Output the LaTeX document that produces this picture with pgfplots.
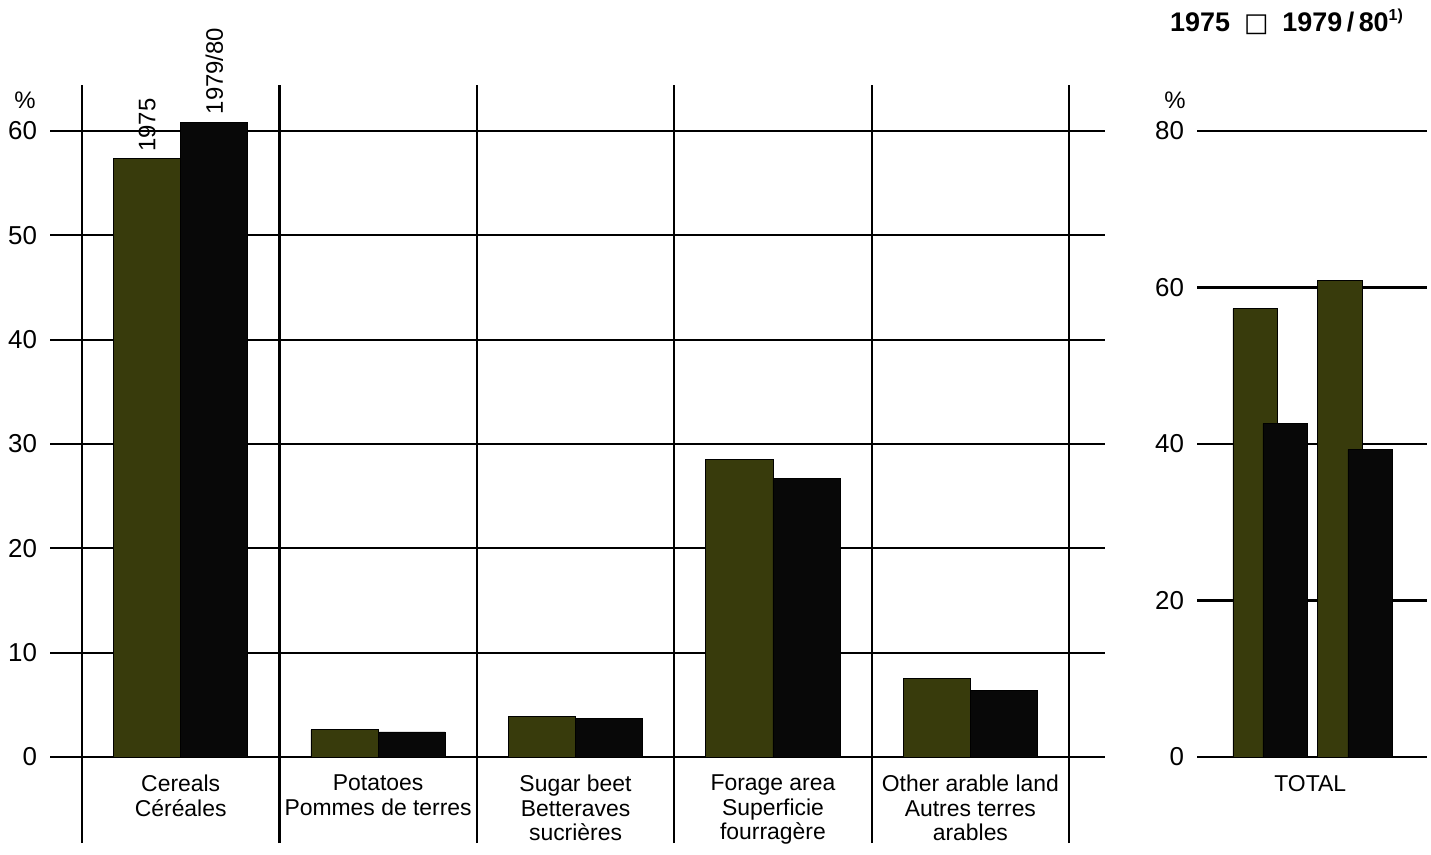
\documentclass[border=0pt]{standalone}
\usepackage{pgfplots}
\pgfplotsset{compat=1.18}
\usepackage{fontspec}
\setmainfont{Liberation Sans}
\newfontfamily\symfont{DejaVu Sans}
\definecolor{olivebar}{HTML}{383B0C}
\definecolor{blackbar}{HTML}{080808}
\begin{document}
\begin{tikzpicture}[x=1bp,y=1bp]
\useasboundingbox (0,0) rectangle (715.5,427);
\pgfplotsset{
  common/.style={
    scale only axis, anchor=south west,
    axis line style={draw=none},
    major tick length=0pt,
    ymajorgrids,
    grid style={black, line width=1.1bp},
    /pgf/number format/assume math mode=true,
    xticklabel style={align=center, font=\fontsize{11.5}{12.3}\selectfont},
    yticklabel style={font=\fontsize{13}{13}\selectfont, xshift=-3bp},
    ybar,
    clip=false,
  }
}
\begin{axis}[common,
  at={(25bp,5.5bp)}, width=527.5bp, height=379bp,
  xmin=-0.662, xmax=4.682, ymin=-8.243, ymax=64.41,
  ytick={0,10,...,60},
  bar width=0.34,
  xtick={0,1,2,3,4},
  xticklabels={{Cereals\\Céréales},{Potatoes\\Pommes de terres},{Sugar beet\\Betteraves\\sucrières},{Forage area\\Superficie\\fourragère},{Other arable land\\Autres terres\\arables}},
  xticklabel style={yshift=37.5bp},
  extra x ticks={-0.5,0.5,1.5,2.5,3.5,4.5},
  extra x tick labels={},
  extra x tick style={grid=major},
]
\addplot[fill=olivebar, draw=black, line width=0.4bp, bar shift=-0.17] coordinates {(0,57.4) (1,2.6) (2,3.9) (3,28.5) (4,7.5)};
\addplot[fill=blackbar, draw=black, line width=0.4bp, bar shift=0.17] coordinates {(0,60.8) (1,2.4) (2,3.7) (3,26.7) (4,6.4)};
\node[rotate=90, anchor=west, inner sep=3bp, font=\fontsize{12}{12}\selectfont] at (axis cs:-0.17,57.4) {1975};
\node[rotate=90, anchor=west, inner sep=4bp, font=\fontsize{12}{12}\selectfont] at (axis cs:0.17,60.8) {1979/80};
\end{axis}
\begin{axis}[common,
  at={(598.5bp,5.5bp)}, width=115bp, height=379bp,
  xmin=-0.682, xmax=2.024, ymin=-10.99, ymax=85.88,
  ytick={0,20,...,80},
  bar width=0.52,
  xtick={0.65}, xticklabels={TOTAL},
  xticklabel style={yshift=37.5bp},
]
\addplot[fill=olivebar, draw=black, line width=0.4bp, bar shift=0] coordinates {(0,57.3) (1,60.9)};
\addplot[fill=blackbar, draw=black, line width=0.4bp, bar shift=0] coordinates {(0.353,42.6) (1.353,39.3)};
\end{axis}
\node[font=\fontsize{12}{12}\selectfont] at (12.5,377) {\%};
\node[font=\fontsize{12}{12}\selectfont] at (587.5,377) {\%};
\node[font=\bfseries\fontsize{13.5}{14}\selectfont] at (643.5,416) {1975\hspace{7bp}{\symfont\mdseries\fontsize{13}{13}\selectfont □}\hspace{7bp}1979\,/\,80\textsuperscript{\fontsize{8}{9}\selectfont 1)}};
\end{tikzpicture}
\end{document}
